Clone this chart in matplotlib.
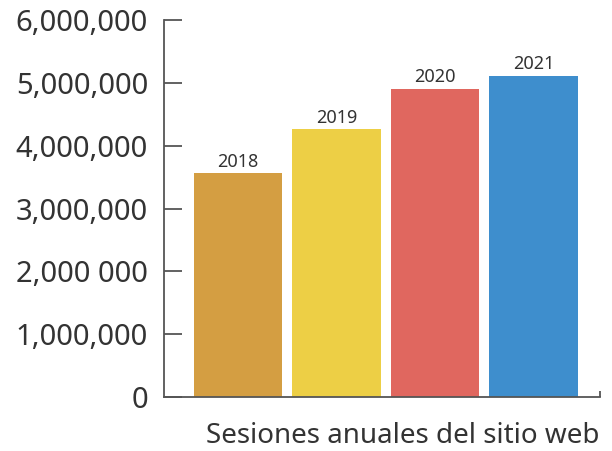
import matplotlib.pyplot as plt

years = ["2018", "2019", "2020", "2021"]
sessions = [3560000, 4260000, 4900000, 5110000]
colors = ["#D49E42", "#EDCF45", "#E0675F", "#3E8ECD"]
ytick_values = [0, 1000000, 2000000, 3000000, 4000000, 5000000, 6000000]
ytick_labels = ["0", "1,000,000", "2,000 000", "3,000,000", "4,000,000", "5,000,000", "6,000,000"]
xlabel = "Sesiones anuales del sitio web"

plt.rcParams["font.family"] = ["Noto Sans", "DejaVu Sans"]
text_color = "#333333"
axis_color = "#555555"

fig = plt.figure(figsize=(6.12, 4.51), dpi=100)
ax = fig.add_axes([164 / 612, 54 / 451, 436 / 612, 377 / 451])

x = list(range(len(years)))
bars = ax.bar(x, sessions, width=0.895, color=colors)
ax.bar_label(bars, labels=years, padding=2, fontsize=13, color=text_color)

ax.set_xlim(-0.75, 3.675)
ax.set_ylim(0, 6000000)

ax.set_yticks(ytick_values, labels=ytick_labels)
ax.tick_params(axis="y", direction="in", length=13, width=1.3, color=axis_color,
               pad=11.5, labelsize=21, labelcolor=text_color)

# only a small upward tick at the right end of the baseline
ax.set_xticks([3.675], labels=[""])
ax.tick_params(axis="x", direction="in", length=4, width=1.3, color=axis_color)

for side in ["top", "right"]:
    ax.spines[side].set_visible(False)
for side in ["left", "bottom"]:
    ax.spines[side].set_color(axis_color)
    ax.spines[side].set_linewidth(1.3)

ax.set_xlabel(xlabel, fontsize=20, color=text_color, labelpad=14)
ax.xaxis.set_label_coords(0.548, -0.065, transform=ax.transAxes)
ax.xaxis.label.set_va("top")

fig.savefig("out.png", dpi=100)
